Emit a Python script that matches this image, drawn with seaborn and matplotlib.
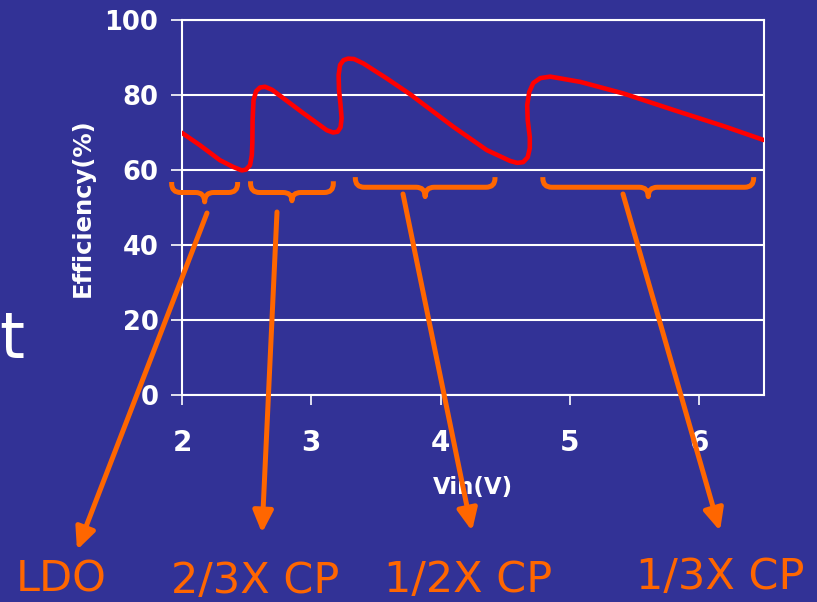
import numpy as np
import pandas as pd
import matplotlib
matplotlib.use("Agg")
import matplotlib.pyplot as plt
from matplotlib.path import Path
from matplotlib.patches import PathPatch, FancyArrowPatch
from matplotlib.transforms import IdentityTransform
import seaborn as sns

# Efficiency trace of the multi-mode regulator (input voltage in V, efficiency in %)
vin = [2.000, 2.139, 2.294, 2.397, 2.462, 2.495, 2.526, 2.540, 2.544, 2.546,
       2.553, 2.573, 2.603, 2.642, 2.696, 2.936, 3.120, 3.168, 3.203, 3.226,
       3.234, 3.226, 3.214, 3.211, 3.222, 3.249, 3.284, 3.330, 3.403, 3.584,
       3.764, 4.099, 4.357, 4.538, 4.592, 4.638, 4.673, 4.689, 4.689, 4.673,
       4.669, 4.685, 4.716, 4.770, 4.847, 5.079, 5.414, 5.801, 6.188, 6.497]
eff = [69.9, 66.6, 62.6, 60.8, 59.9, 60.1, 61.3, 64.0, 67.2, 73.3,
       78.6, 81.0, 82.0, 82.2, 81.4, 75.2, 70.6, 70.0, 70.2, 71.4,
       73.8, 77.3, 81.3, 85.3, 88.0, 89.3, 89.7, 89.6, 88.4, 84.4,
       80.2, 71.5, 65.3, 62.4, 61.9, 62.1, 63.4, 65.8, 68.8, 73.3,
       77.3, 80.8, 83.2, 84.5, 84.9, 83.5, 80.4, 76.0, 71.7, 68.0]

# Operating modes and the input-voltage span each one covers
modes = ["LDO", "2/3X CP", "1/2X CP", "1/3X CP"]
mode_lo = [1.92, 2.53, 3.34, 4.79]
mode_hi = [2.43, 3.17, 4.42, 6.42]

xticks = [2, 3, 4, 5, 6]
yticks = [0, 20, 40, 60, 80, 100]

BG = "#323296"
ORANGE = "#ff6600"
RED = "#ff0000"
W, H = 817, 602

sns.set_style("dark", {"axes.facecolor": BG, "figure.facecolor": BG,
                       "axes.edgecolor": "white", "grid.color": "white"})
plt.rcParams["font.family"] = ["DejaVu Sans"]

fig = plt.figure(figsize=(W / 100, H / 100), dpi=100)
fig.patch.set_facecolor(BG)


def fx(px):
    return px / W


def fy(py):
    return (H - py) / H


ax = fig.add_axes([fx(182), fy(395), (764 - 182) / W, (395 - 20) / H])
ax.set_facecolor(BG)

df = pd.DataFrame({"Vin": vin, "Efficiency": eff})
sns.lineplot(data=df, x="Vin", y="Efficiency", sort=False, estimator=None,
             color=RED, lw=3.3, ax=ax, zorder=3)
for ln in ax.get_lines():
    ln.set_solid_joinstyle("round")
    ln.set_solid_capstyle("round")

ax.set_xlim(2, 6.5)
ax.set_ylim(0, 100)
ax.set_xticks(xticks)
ax.set_yticks(yticks)
ax.set_xticklabels([str(v) for v in xticks])
ax.set_yticklabels([str(v) for v in yticks])

ax.yaxis.grid(True, color="white", lw=1.5)
ax.xaxis.grid(False)
for s in ax.spines.values():
    s.set_color("white")
    s.set_linewidth(1.5)
    s.set_visible(True)

ax.tick_params(axis="y", colors="white", length=8, width=1.2, pad=9,
               labelsize=18.5, direction="out", left=True)
ax.tick_params(axis="x", colors="white", length=7.5, width=1.2, pad=17,
               labelsize=20, direction="out", bottom=True)
for lab in ax.get_xticklabels() + ax.get_yticklabels():
    lab.set_fontweight("bold")
    lab.set_color("white")

ax.set_xlabel("Vin(V)", color="white", fontsize=16.5, fontweight="bold", labelpad=14)
ax.set_ylabel("Efficiency(%)", color="white", fontsize=17.5, fontweight="bold", labelpad=7)

# Slide title fragment peeking out on the left
fig.text(fx(-1), fy(358), "t", color="white", fontsize=46, ha="left", va="baseline")

# Curly braces marking each mode's input range
fig.canvas.draw()
to_disp = ax.transData.transform
brace_levels = [(56.8, 54.0, 51.5), (57.0, 54.0, 51.8), (58.1, 55.4, 52.9), (58.1, 55.4, 52.9)]
r = 9.0
for lo, hi, (yt, yl, ytip) in zip(mode_lo, mode_hi, brace_levels):
    x0, top = to_disp((lo, yt))
    x1, line = to_disp((hi, yl))
    _, tip = to_disp((lo, ytip))
    xc = 0.5 * (x0 + x1)
    verts = [(x0, top), (x0, line + r), (x0, line), (x0 + r, line),
             (xc - r, line), (xc, line), (xc, tip),
             (xc, line), (xc + r, line),
             (x1 - r, line), (x1, line), (x1, line + r), (x1, top)]
    codes = [Path.MOVETO, Path.LINETO, Path.CURVE3, Path.CURVE3,
             Path.LINETO, Path.CURVE3, Path.CURVE3,
             Path.CURVE3, Path.CURVE3,
             Path.LINETO, Path.CURVE3, Path.CURVE3, Path.LINETO]
    fig.add_artist(PathPatch(Path(verts, codes), transform=IdentityTransform(),
                             fill=False, edgecolor=ORANGE, lw=3.6,
                             capstyle="butt", joinstyle="round", zorder=5))

# Arrows from each brace down to its mode label (figure pixel positions)
arrow_start = [(207, 213), (277, 212), (403, 194), (623, 194)]
arrow_end = [(77, 550), (262, 533), (472, 531), (720, 531)]
for (sx, sy), (ex, ey) in zip(arrow_start, arrow_end):
    fig.add_artist(FancyArrowPatch((sx, H - sy), (ex, H - ey),
                                   transform=IdentityTransform(),
                                   arrowstyle="-|>,head_length=1.3,head_width=0.6",
                                   mutation_scale=10, color=ORANGE, lw=3.6,
                                   shrinkA=0, shrinkB=0, zorder=6))

# Mode labels
label_pos = [(61, 591), (255, 593), (468, 592), (720, 589)]
for name, (lx, ly) in zip(modes, label_pos):
    fig.text(fx(lx), fy(ly), name, color=ORANGE, fontsize=31,
             ha="center", va="baseline")

fig.savefig("out.png", dpi=100, facecolor=BG)
